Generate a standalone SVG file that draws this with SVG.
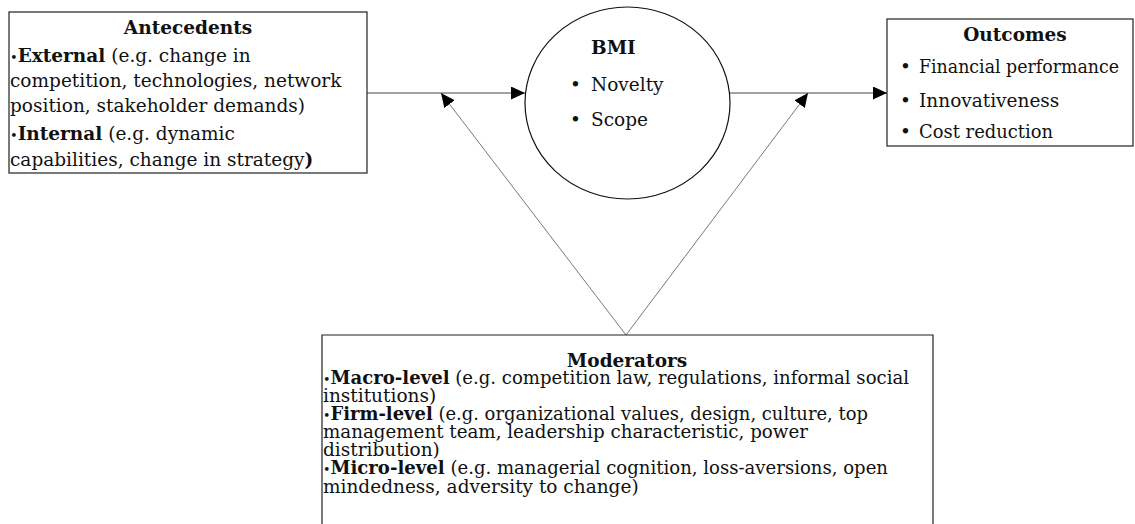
<svg xmlns="http://www.w3.org/2000/svg" width="1135" height="524" viewBox="0 0 1135 524">
  <style>
    text { font-family: "DejaVu Serif", "Liberation Serif", serif; font-size: 18.5px; fill: #111; }
    .title { font-weight: bold; text-anchor: middle; }
    .b { font-weight: bold; }
    .dot { font-size: 13px; }
    .box { fill: #fff; stroke: #222; stroke-width: 1.2; }
    .edge { stroke: #444; stroke-width: 1; fill: none; }
    .diag { stroke: #555; stroke-width: 0.8; fill: none; }
  </style>
  <defs>
    <marker id="arrow" markerUnits="userSpaceOnUse" markerWidth="15" markerHeight="14" refX="14" refY="6.5" orient="auto">
      <path d="M0,0 L14,6.5 L0,13 z" fill="#000"/>
    </marker>
  </defs>

  <rect width="1135" height="524" fill="#fff"/>

  <!-- connectors -->
  <g id="connectors">
    <line class="edge" x1="367" y1="93" x2="525" y2="93" marker-end="url(#arrow)"/>
    <line class="edge" x1="730" y1="93" x2="887" y2="93" marker-end="url(#arrow)"/>
    <line class="diag" x1="626" y1="335" x2="441" y2="93" marker-end="url(#arrow)"/>
    <line class="diag" x1="626" y1="335" x2="808" y2="93" marker-end="url(#arrow)"/>
  </g>

  <!-- antecedents -->
  <g id="antecedents">
    <rect class="box" x="9" y="12" width="358" height="161"/>
    <text class="title" x="188" y="34">Antecedents</text>
    <text x="10" y="62"><tspan class="dot">•</tspan><tspan class="b">External</tspan> (e.g. change in</text>
    <text x="10" y="87">competition, technologies, network</text>
    <text x="10" y="112">position, stakeholder demands)</text>
    <text x="10" y="140"><tspan class="dot">•</tspan><tspan class="b">Internal</tspan> (e.g. dynamic</text>
    <text x="10" y="166">capabilities, change in strategy<tspan class="b">)</tspan></text>
  </g>

  <!-- BMI -->
  <g id="bmi">
    <ellipse cx="627.5" cy="103" rx="102.5" ry="96" fill="#fff" stroke="#111" stroke-width="1.2"/>
    <text class="b" x="591" y="54">BMI</text>
    <text x="570" y="91">•</text>
    <text x="591" y="91">Novelty</text>
    <text x="570" y="126">•</text>
    <text x="591" y="126">Scope</text>
  </g>

  <!-- outcomes -->
  <g id="outcomes">
    <rect class="box" x="887" y="19" width="246" height="127"/>
    <text class="title" x="1015" y="41">Outcomes</text>
    <text x="900" y="73">•</text>
    <text x="919" y="73" textLength="200" lengthAdjust="spacingAndGlyphs">Financial performance</text>
    <text x="900" y="107">•</text>
    <text x="919" y="107">Innovativeness</text>
    <text x="900" y="138">•</text>
    <text x="919" y="138" textLength="134" lengthAdjust="spacingAndGlyphs">Cost reduction</text>
  </g>

  <!-- moderators (box runs past the bottom edge) -->
  <g id="moderators">
    <path class="box" d="M322,530 V335 H933 V530"/>
    <text class="title" x="627" y="367">Moderators</text>
    <text x="323" y="384" textLength="586" lengthAdjust="spacingAndGlyphs"><tspan class="dot">•</tspan><tspan class="b">Macro-level</tspan> (e.g. competition law, regulations, informal social</text>
    <text x="323" y="402">institutions)</text>
    <text x="323" y="420" textLength="545" lengthAdjust="spacingAndGlyphs"><tspan class="dot">•</tspan><tspan class="b">Firm-level</tspan> (e.g. organizational values, design, culture, top</text>
    <text x="323" y="438" textLength="485" lengthAdjust="spacingAndGlyphs">management team, leadership characteristic, power</text>
    <text x="323" y="456">distribution)</text>
    <text x="323" y="474" textLength="565" lengthAdjust="spacingAndGlyphs"><tspan class="dot">•</tspan><tspan class="b">Micro-level</tspan> (e.g. managerial cognition, loss-aversions, open</text>
    <text x="323" y="493">mindedness, adversity to change)</text>
  </g>
</svg>
